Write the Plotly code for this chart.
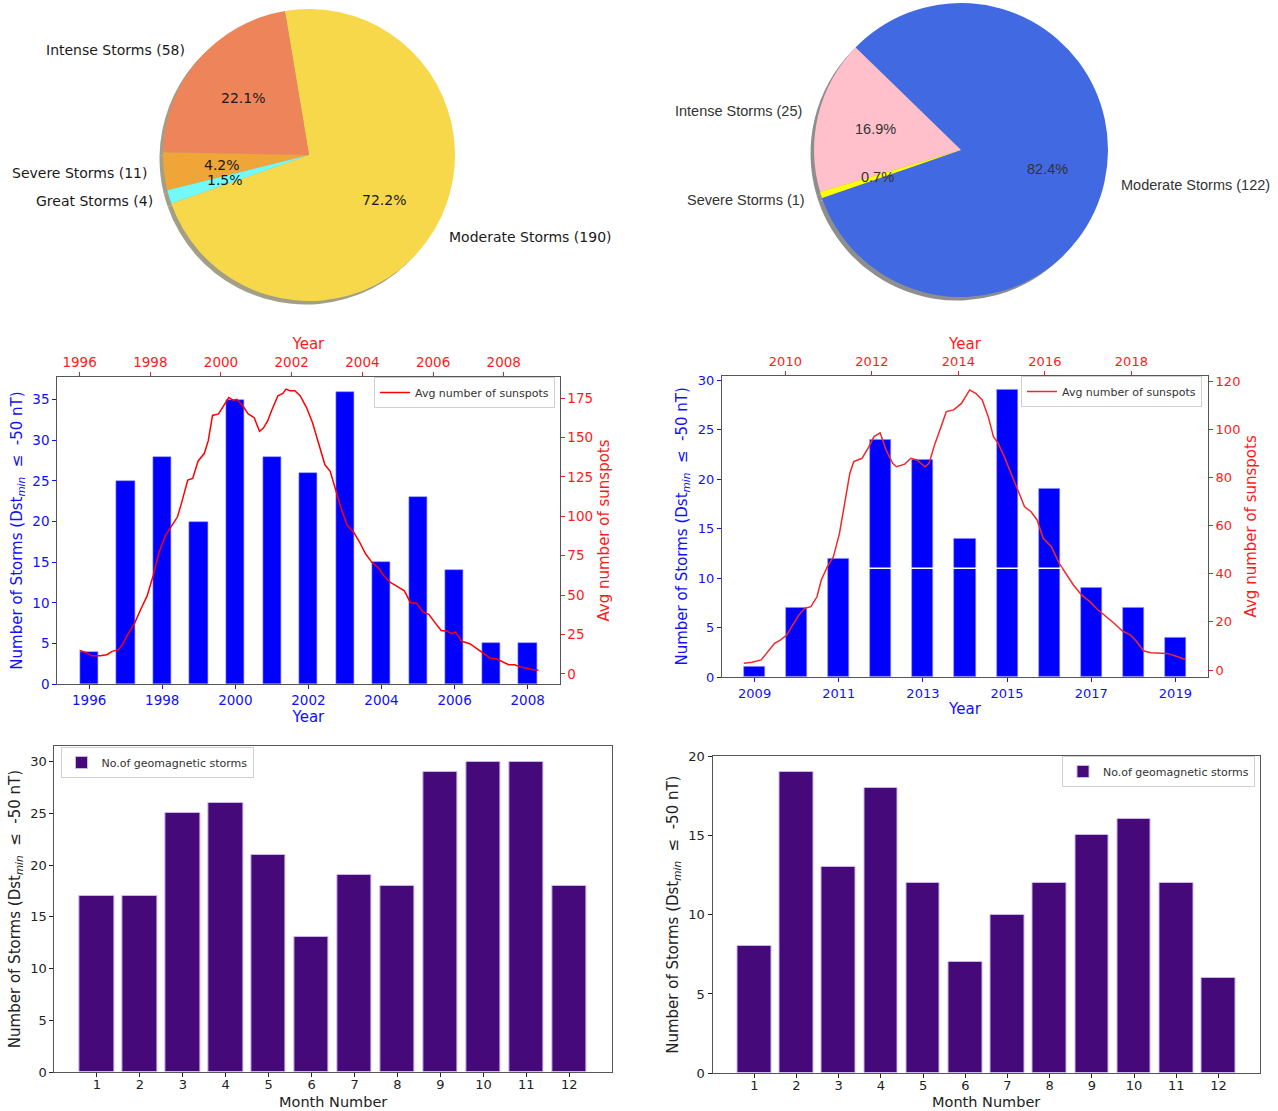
import math
import plotly.graph_objects as go

W, H = 1278, 1111

# ------------------------------------------------------------------ data
pie1_labels = ["Moderate Storms", "Intense Storms", "Severe Storms", "Great Storms"]
pie1_values = [190, 58, 11, 4]
pie1_colors = ["#F7D84A", "#EE855A", "#F0A538", "#72F9F9"]

pie2_labels = ["Moderate Storms", "Intense Storms", "Severe Storms"]
pie2_values = [122, 25, 1]
pie2_colors = ["#4169E1", "#FFC0CB", "#FFFF00"]

years1 = [1996, 1997, 1998, 1999, 2000, 2001, 2002, 2003, 2004, 2005, 2006, 2007, 2008]
storms1 = [4, 25, 28, 20, 35, 28, 26, 36, 15, 23, 14, 5, 5]

ss1_t = [1996.0, 1996.17, 1996.35, 1996.58, 1996.77, 1996.92, 1997.1, 1997.21, 1997.39, 1997.56,
         1997.73, 1997.91, 1998.08, 1998.25, 1998.43, 1998.6, 1998.77, 1998.89, 1999.06, 1999.2,
         1999.35, 1999.53, 1999.64, 1999.76, 1999.93, 2000.1, 2000.22, 2000.34, 2000.45, 2000.62,
         2000.77, 2000.94, 2001.09, 2001.2, 2001.32, 2001.43, 2001.61, 2001.75, 2001.84, 2001.95,
         2002.09, 2002.24, 2002.42, 2002.59, 2002.76, 2002.94, 2003.09, 2003.23, 2003.4, 2003.57,
         2003.75, 2003.92, 2004.09, 2004.27, 2004.44, 2004.61, 2004.79, 2004.96, 2005.19, 2005.36,
         2005.54, 2005.71, 2005.88, 2006.06, 2006.23, 2006.4, 2006.52, 2006.64, 2006.81, 2007.04,
         2007.21, 2007.39, 2007.62, 2007.79, 2007.97, 2008.14, 2008.31, 2008.49, 2008.66, 2008.83,
         2008.98]
ss1_v = [14.9, 13.7, 11.5, 11.5, 12.2, 14.3, 15.4, 18.6, 26, 32.4,
         41, 49.5, 62.3, 77.3, 88, 94.3, 99.7, 109, 123, 124,
         135, 140, 148, 164, 165, 171, 175.4, 173.7, 174.3, 170,
         165, 162.6, 154, 156, 160.5, 167, 176.5, 178, 180.7, 179.7,
         179.7, 176.5, 169, 159.4, 146.6, 132.7, 128.5, 117.8, 105, 94.3,
         90, 83.7, 76.2, 70.8, 67.6, 62.3, 58, 55.9, 52.7, 45.2,
         44.8, 39.3, 37.8, 32.4, 27.5, 27.1, 25.6, 26.5, 20.7, 19.2,
         16.4, 13.7, 10, 9.6, 7.9, 5.8, 5.8, 4.3, 3.6, 2.6,
         2.3]

years2 = [2009, 2010, 2011, 2012, 2013, 2014, 2015, 2016, 2017, 2018, 2019]
storms2 = [1, 7, 12, 24, 22, 14, 29, 19, 9, 7, 4]

ss2_t = [2009.04, 2009.23, 2009.44, 2009.6, 2009.75, 2009.89, 2010.03, 2010.17, 2010.31, 2010.45,
         2010.59, 2010.73, 2010.83, 2010.97, 2011.11, 2011.25, 2011.39, 2011.49, 2011.58, 2011.77,
         2011.91, 2012.05, 2012.19, 2012.33, 2012.48, 2012.57, 2012.76, 2012.9, 2013.04, 2013.13,
         2013.23, 2013.32, 2013.46, 2013.6, 2013.72, 2013.89, 2014.07, 2014.26, 2014.4, 2014.55,
         2014.69, 2014.81, 2014.92, 2015.06, 2015.2, 2015.35, 2015.53, 2015.68, 2015.82, 2015.96,
         2016.15, 2016.33, 2016.52, 2016.66, 2016.85, 2017.04, 2017.23, 2017.42, 2017.6, 2017.79,
         2017.98, 2018.12, 2018.28, 2018.45, 2018.64, 2018.83, 2019.02, 2019.25]
ss2_v = [2.8, 3.2, 4.2, 7.6, 11.1, 12.5, 14.5, 18.7, 22.8, 25.6,
         26.3, 30.4, 37.4, 42.9, 47, 56.7, 70.6, 81.7, 86.5, 87.9,
         92, 96.9, 98.5, 91.3, 85.8, 84.4, 85.5, 87.9, 87.2, 85.8,
         84.4, 85.8, 94.1, 101, 107.3, 108, 110.7, 116.3, 114.9, 112.1,
         105.2, 96.9, 94.1, 88.6, 82.4, 76.1, 67.8, 65.7, 62.3, 54.7,
         51.2, 44.3, 39.4, 35.3, 31.1, 28.4, 24.9, 22.1, 19.4, 16.2,
         14.5, 11.8, 8.0, 7.2, 6.9, 6.9, 5.8, 4.4]

months = [1, 2, 3, 4, 5, 6, 7, 8, 9, 10, 11, 12]
monthly1 = [17, 17, 25, 26, 21, 13, 19, 18, 29, 30, 30, 18]
monthly2 = [8, 19, 13, 18, 12, 7, 10, 12, 15, 16, 12, 6]

# ------------------------------------------------------------------ helpers
FONT = "DejaVu Sans"
BLUE = "#1010ff"
RED = "#ff1a1a"
SPINE = "#555555"


def px_x(p):
    return p / W


def px_y(p):
    return 1 - p / H


fig = go.Figure()
annotations = []


def add_pie(labels, values, colors, cx, cy, r, rotation, shadow, font, fsize, fcolor):
    dom = dict(x=[px_x(cx - r), px_x(cx + r)], y=[px_y(cy + r), px_y(cy - r)])
    sdom = dict(x=[px_x(cx - r - 3.5), px_x(cx + r - 3.5)], y=[px_y(cy + r + 3.5), px_y(cy - r + 3.5)])
    fig.add_trace(go.Pie(labels=labels, values=values, domain=sdom, sort=False,
                         direction="counterclockwise", rotation=rotation,
                         marker=dict(colors=[shadow] * len(values)), textinfo="none",
                         hoverinfo="skip", showlegend=False))
    fig.add_trace(go.Pie(labels=labels, values=values, domain=dom, sort=False,
                         direction="counterclockwise", rotation=rotation,
                         marker=dict(colors=colors), textinfo="none",
                         hoverinfo="label+value+percent", showlegend=False))
    total = sum(values)
    start = -rotation  # counter-clockwise angle from 12 o'clock
    spans = []
    a0 = values[0] / total * 360
    spans.append((start - a0, start))
    acc = start
    for v in values[1:]:
        a = v / total * 360
        spans.append((acc, acc + a))
        acc += a
    for lab, v, (s, e) in zip(labels, values, spans):
        mid = math.radians(90 + (s + e) / 2)
        c, sn = math.cos(mid), math.sin(mid)
        lx, ly = cx + 1.1 * r * c, cy - 1.1 * r * sn
        annotations.append(dict(x=px_x(lx), y=px_y(ly), xref="paper", yref="paper",
                                text=f"{lab} ({v})", showarrow=False,
                                xanchor="left" if c > 0 else "right", yanchor="middle",
                                font=dict(family=font, size=fsize, color=fcolor)))
        tx, ty = cx + 0.6 * r * c, cy - 0.6 * r * sn
        annotations.append(dict(x=px_x(tx), y=px_y(ty), xref="paper", yref="paper",
                                text=f"{v / total * 100:.1f}%", showarrow=False,
                                xanchor="center", yanchor="middle",
                                font=dict(family=font, size=fsize, color=fcolor)))


add_pie(pie1_labels, pie1_values, pie1_colors, 309, 155, 146, -9.5, "#A39E86",
        FONT, 14, "#1a1a1a")
add_pie(pie2_labels, pie2_values, pie2_colors, 961, 150, 147, -45.8, "#8E8E8E",
        "Liberation Sans", 14.5, "#333333")

# ---- middle row: storms per year + sunspots
fig.add_trace(go.Bar(x=years1, y=storms1, width=0.5, marker=dict(color="#0000ff", line=dict(width=0.6, color="#8c8cff")),
                     xaxis="x", yaxis="y", showlegend=False, name="Storms"))
fig.add_trace(go.Scatter(x=ss1_t, y=ss1_v, mode="lines", line=dict(color="#ff0000", width=1.5),
                         xaxis="x2", yaxis="y2", name="Avg number of sunspots", legend="legend"))

fig.add_trace(go.Bar(x=years2, y=storms2, width=0.5, marker=dict(color="#0000ff", line=dict(width=0.6, color="#8c8cff")),
                     xaxis="x3", yaxis="y3", showlegend=False, name="Storms"))
fig.add_trace(go.Scatter(x=ss2_t, y=ss2_v, mode="lines", line=dict(color="#f02828", width=1.5),
                         xaxis="x4", yaxis="y4", name="Avg number of sunspots", legend="legend2"))

# ---- bottom row: monthly
PURPLE = "#46097A"
fig.add_trace(go.Bar(x=months, y=monthly1, width=0.8, marker=dict(color=PURPLE, line=dict(width=1, color="#c9b6ea")),
                     xaxis="x5", yaxis="y5", name="No.of geomagnetic storms", legend="legend3"))
fig.add_trace(go.Bar(x=months, y=monthly2, width=0.8, marker=dict(color=PURPLE, line=dict(width=1, color="#c9b6ea")),
                     xaxis="x6", yaxis="y6", name="No.of geomagnetic storms", legend="legend4"))

YTITLE = "Number of Storms (Dst<sub><i>min</i></sub>\u00a0\u00a0≤\u00a0\u00a0-50 nT)"


def ax(color, tickvals, rng, title, tsize=13, title_size=15, standoff=6, **kw):
    d = dict(range=rng, tickvals=tickvals, ticks="outside", ticklen=4, tickwidth=1,
             tickcolor=color, tickfont=dict(family=FONT, size=tsize, color=color),
             showline=True, linecolor=SPINE, linewidth=1, showgrid=False, zeroline=False,
             automargin=False, fixedrange=True,
             title=dict(text=title, font=dict(family=FONT, size=title_size, color=color), standoff=standoff))
    d.update(kw)
    return d


ml_x = [px_x(57.2), px_x(559.6)]
ml_y = [px_y(684), px_y(377)]
mr_x = [px_x(722), px_x(1208)]
mr_y = [px_y(677), px_y(375.7)]
bl_x = [px_x(54.4), px_x(611.8)]
bl_y = [px_y(1072), px_y(746)]
br_x = [px_x(712.5), px_x(1260.3)]
br_y = [px_y(1073.3), px_y(756)]

layout_axes = dict(
    xaxis=ax(BLUE, years1[::2], [1995.125, 2008.875], "Year", tsize=13.5, standoff=3, domain=ml_x, anchor="y", mirror=True),
    yaxis=ax(BLUE, list(range(0, 36, 5)), [0, 37.8], YTITLE, tsize=13.5, domain=ml_y, anchor="x", mirror=True),
    xaxis2=ax(RED, list(range(1996, 2009, 2)), [1995.366, 2009.58], "Year", tsize=13.5, standoff=0,
              overlaying="x", side="top", anchor="y"),
    yaxis2=ax(RED, list(range(0, 176, 25)), [-6.4, 188.4], "Avg number of sunspots", tsize=13.5,
              overlaying="y", side="right", anchor="x"),
    xaxis3=ax(BLUE, years2[::2], [2008.225, 2019.775], "Year", standoff=3, domain=mr_x, anchor="y3", mirror=True),
    yaxis3=ax(BLUE, list(range(0, 31, 5)), [0, 30.45], YTITLE, domain=mr_y, anchor="x3", mirror=True),
    xaxis4=ax(RED, list(range(2010, 2019, 2)), [2008.534, 2019.771], "Year", standoff=0,
              overlaying="x3", side="top", anchor="y3"),
    yaxis4=ax(RED, list(range(0, 121, 20)), [-2.9, 122.2], "Avg number of sunspots",
              overlaying="y3", side="right", anchor="x3"),
    xaxis5=ax("#222222", months, [0.01, 12.99], "", domain=bl_x, anchor="y5", mirror=True,
              ticklabelstandoff=-4),
    yaxis5=ax("#222222", list(range(0, 31, 5)), [0, 31.5], YTITLE, domain=bl_y, anchor="x5", mirror=True),
    xaxis6=ax("#222222", months, [0.01, 12.99], "", domain=br_x, anchor="y6", mirror=True,
              ticklabelstandoff=-4),
    yaxis6=ax("#222222", list(range(0, 21, 5)), [0, 20], YTITLE, domain=br_y, anchor="x6", mirror=True),
)

# bottom x-axis titles (placed as annotations so they are not pushed up by the page edge)
for xd in (bl_x, br_x):
    annotations.append(dict(x=(xd[0] + xd[1]) / 2, y=px_y(1102), xref="paper", yref="paper",
                            text="Month Number", showarrow=False, xanchor="center", yanchor="middle",
                            borderpad=0,
                            font=dict(family=FONT, size=14.5, color="#222222")))


def leg(x, y, xanchor):
    return dict(x=x, y=y, xanchor=xanchor, yanchor="top", xref="paper", yref="paper",
                bgcolor="rgba(255,255,255,0.85)", bordercolor="#d0d0d0", borderwidth=1,
                font=dict(family=FONT, size=11, color="#333333"), itemwidth=30,
                tracegroupgap=0)


shapes = [dict(type="line", xref="x3", yref="y3", x0=2011.7, x1=2016.3, y0=11, y1=11,
               line=dict(color="white", width=1.5), layer="above")]

fig.update_layout(
    width=W, height=H, margin=dict(l=0, r=0, t=0, b=0, pad=0),
    template="none", paper_bgcolor="white", plot_bgcolor="white",
    font=dict(family=FONT, size=13, color="#222222"),
    annotations=annotations, shapes=shapes, bargap=0,
    legend=leg(px_x(555), px_y(377), "right"),
    legend2=leg(px_x(1202), px_y(376), "right"),
    legend3=leg(px_x(60.5), px_y(747), "left"),
    legend4=leg(px_x(1255), px_y(756), "right"),
    **layout_axes,
)

fig.write_html("out.html", config={"displayModeBar": False},
               post_script="document.body.style.margin='0px';document.body.style.overflow='hidden';")
